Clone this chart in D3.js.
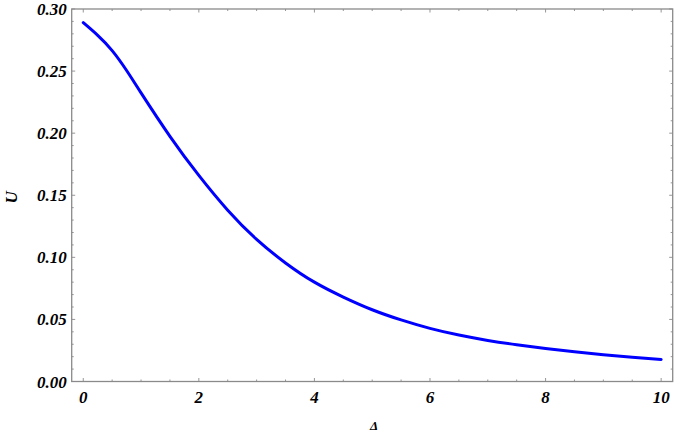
<!DOCTYPE html>
<html>
<head>
<meta charset="utf-8">
<script src="https://cdn.jsdelivr.net/npm/d3@7"></script>
<style>
  html, body { margin: 0; padding: 0; background: #fff; }
  #chart { width: 685px; height: 437px; }
  .lbl { font-family: "Liberation Serif", "Times New Roman", serif; font-weight: bold; font-style: italic; fill: #000; }
</style>
</head>
<body>
<div id="chart"></div>
<script>
// Values
const deltaValues = [0, 0.25, 0.5, 0.75, 1, 1.5, 2, 2.5, 3, 3.5, 4, 4.5, 5, 5.5, 6, 6.5, 7, 7.5, 8, 8.5, 9, 9.5, 10];
const uValues = [0.289, 0.2788, 0.2665, 0.2505, 0.2325, 0.1975, 0.166, 0.138, 0.1145, 0.0955, 0.080, 0.068,
                 0.0578, 0.0496, 0.0428, 0.0374, 0.0331, 0.0296, 0.0266, 0.0239, 0.0215, 0.0195, 0.0178];
const xTickValues = [0, 2, 4, 6, 8, 10];
const yTickValues = [0.00, 0.05, 0.10, 0.15, 0.20, 0.25, 0.30];

function renderChart() {
    const width = 685, height = 437;
    const margin = { top: 9, right: 12.3, bottom: 55.5, left: 71.7 };

    const svg = d3.select('#chart').append('svg')
        .attr('width', width)
        .attr('height', height);

    const x = d3.scaleLinear()
        .domain([-0.2, 10.2])
        .range([margin.left, width - margin.right]);

    const y = d3.scaleLinear()
        .domain([0, 0.30])
        .range([height - margin.bottom, margin.top]);

    const frameColor = '#8a8a8a';
    const x0 = x.range()[0], x1 = x.range()[1];
    const y0 = y.range()[0], y1 = y.range()[1];

    // ticks, inward on all four sides
    const xMinor = d3.range(0, 10.01, 0.5);
    const yMinor = d3.range(0, 0.3001, 0.01);
    const ticks = svg.append('g').attr('stroke', frameColor).attr('stroke-width', 0.9);

    xMinor.forEach(v => {
        const len = Math.abs(v - Math.round(v / 2) * 2) < 1e-6 ? 3.5 : 2;
        ticks.append('line').attr('x1', x(v)).attr('x2', x(v)).attr('y1', y0).attr('y2', y0 - len);
        ticks.append('line').attr('x1', x(v)).attr('x2', x(v)).attr('y1', y1).attr('y2', y1 + len);
    });
    yMinor.forEach(v => {
        const major = Math.abs(v * 20 - Math.round(v * 20)) < 1e-6;
        const len = major ? 3.5 : 2;
        ticks.append('line').attr('x1', x0).attr('x2', x0 + len).attr('y1', y(v)).attr('y2', y(v));
        ticks.append('line').attr('x1', x1).attr('x2', x1 - len).attr('y1', y(v)).attr('y2', y(v));
    });

    // frame
    svg.append('rect')
        .attr('x', x0).attr('y', y1)
        .attr('width', x1 - x0).attr('height', y0 - y1)
        .attr('fill', 'none')
        .attr('stroke', frameColor)
        .attr('stroke-width', 1.3);

    // tick labels
    svg.selectAll('.xlbl')
        .data(xTickValues)
        .enter().append('text')
        .attr('class', 'lbl')
        .attr('x', d => x(d))
        .attr('y', y0 + 21.5)
        .attr('text-anchor', 'middle')
        .attr('font-size', '17px')
        .text(d => d3.format('d')(d));

    svg.selectAll('.ylbl')
        .data(yTickValues)
        .enter().append('text')
        .attr('class', 'lbl')
        .attr('x', x0 - 5)
        .attr('y', d => y(d) + 6)
        .attr('text-anchor', 'end')
        .attr('font-size', '17px')
        .text(d => d3.format('.2f')(d));

    // axis titles
    svg.append('text')
        .attr('class', 'lbl')
        .attr('x', (x0 + x1) / 2 + 2)
        .attr('y', 430)
        .attr('text-anchor', 'middle')
        .attr('font-size', '13px')
        .text('Δ');

    svg.append('text')
        .attr('class', 'lbl')
        .attr('transform', `translate(17, ${(y0 + y1) / 2 + 2}) rotate(-90)`)
        .attr('text-anchor', 'middle')
        .attr('font-size', '17px')
        .text('U');

    // curve
    const data = deltaValues.map((d, i) => ({ x: d, u: uValues[i] }));
    const line = d3.line()
        .x(d => x(d.x))
        .y(d => y(d.u))
        .curve(d3.curveNatural);

    svg.append('path')
        .datum(data)
        .attr('fill', 'none')
        .attr('stroke', '#0000ff')
        .attr('stroke-width', 3)
        .attr('stroke-linecap', 'round')
        .attr('d', line);
}

renderChart();
</script>
</body>
</html>
